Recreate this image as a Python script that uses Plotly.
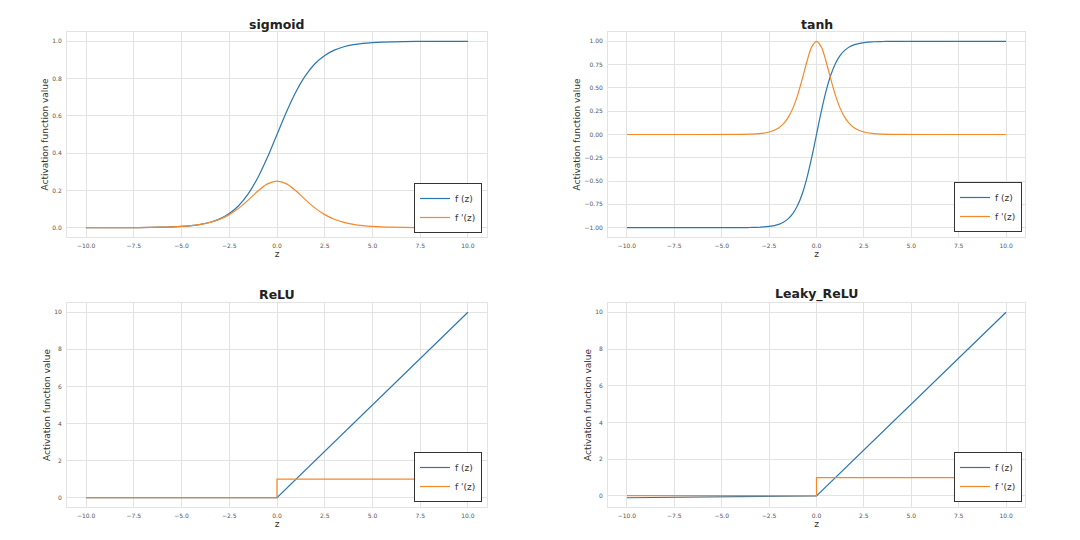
import plotly.graph_objects as go
from plotly.subplots import make_subplots

# ---------------- data ----------------
z_sig = [-10, -8, -6, -5.5, -5, -4.5, -4, -3.5, -3, -2.5, -2, -1.5, -1, -0.5, 0,
         0.5, 1, 1.5, 2, 2.5, 3, 3.5, 4, 4.5, 5, 5.5, 6, 8, 10]
sig_f = [0.0000, 0.0003, 0.0025, 0.0041, 0.0067, 0.0110, 0.0180, 0.0293, 0.0474, 0.0759, 0.1192, 0.1824, 0.2689, 0.3775, 0.5000,
         0.6225, 0.7311, 0.8176, 0.8808, 0.9241, 0.9526, 0.9707, 0.9820, 0.9890, 0.9933, 0.9959, 0.9975, 0.9997, 1.0000]
sig_d = [0.0000, 0.0003, 0.0025, 0.0041, 0.0066, 0.0109, 0.0177, 0.0285, 0.0452, 0.0701, 0.1050, 0.1491, 0.1966, 0.2350, 0.2500,
         0.2350, 0.1966, 0.1491, 0.1050, 0.0701, 0.0452, 0.0285, 0.0177, 0.0109, 0.0066, 0.0041, 0.0025, 0.0003, 0.0000]

z_tanh = [-10, -6, -4, -3.5, -3, -2.5, -2, -1.75, -1.5, -1.25, -1, -0.75, -0.5, -0.25, 0,
          0.25, 0.5, 0.75, 1, 1.25, 1.5, 1.75, 2, 2.5, 3, 3.5, 4, 6, 10]
tanh_f = [-1.0000, -1.0000, -0.9993, -0.9982, -0.9951, -0.9866, -0.9640, -0.9414, -0.9051, -0.8483, -0.7616, -0.6351, -0.4621, -0.2449, 0.0000,
          0.2449, 0.4621, 0.6351, 0.7616, 0.8483, 0.9051, 0.9414, 0.9640, 0.9866, 0.9951, 0.9982, 0.9993, 1.0000, 1.0000]
tanh_d = [0.0000, 0.0000, 0.0013, 0.0036, 0.0099, 0.0266, 0.0707, 0.1138, 0.1807, 0.2804, 0.4200, 0.5966, 0.7864, 0.9400, 1.0000,
          0.9400, 0.7864, 0.5966, 0.4200, 0.2804, 0.1807, 0.1138, 0.0707, 0.0266, 0.0099, 0.0036, 0.0013, 0.0000, 0.0000]

z_relu = [-10, 0, 10]
relu_f = [0, 0, 10]
relu_d = [0, 1, 1]

z_leaky = [-10, 0, 10]
leaky_f = [-0.1, 0, 10]
leaky_d = [0.01, 1, 1]

titles = ["sigmoid", "tanh", "ReLU", "Leaky_ReLU"]
x_ticks = [-10, -7.5, -5, -2.5, 0, 2.5, 5, 7.5, 10]
label_f = "f (z)"
label_d = "f '(z)"

BLUE = "#2a77b0"
ORANGE = "#f5892a"
FONT = "DejaVu Sans"

fig = make_subplots(rows=2, cols=2)

panels = [
    (1, 1, z_sig, sig_f, z_sig, sig_d, "spline", "spline", "legend"),
    (1, 2, z_tanh, tanh_f, z_tanh, tanh_d, "spline", "spline", "legend2"),
    (2, 1, z_relu, relu_f, z_relu, relu_d, "linear", "hv", "legend3"),
    (2, 2, z_leaky, leaky_f, z_leaky, leaky_d, "linear", "hv", "legend4"),
]
for r, c, xf, yf, xd, yd, sf, sd, lg in panels:
    fig.add_trace(go.Scatter(x=xf, y=yf, mode="lines", name=label_f,
                             line=dict(color=BLUE, width=1.2, shape=sf), legend=lg), row=r, col=c)
    fig.add_trace(go.Scatter(x=xd, y=yd, mode="lines", name=label_d,
                             line=dict(color=ORANGE, width=1.2, shape=sd), legend=lg), row=r, col=c)

# domains in pixel fractions
W, H = 1080, 540
xl = [67 / W, 487 / W]
xr = [608 / W, 1025 / W]
yt = [1 - 237 / H, 1 - 32 / H]
yb = [1 - 507 / H, 1 - 303 / H]

axis_common = dict(showgrid=True, gridcolor="#e3e3e3", gridwidth=1,
                   showline=True, linecolor="#e3e3e3", linewidth=1, mirror=True,
                   zeroline=False, ticks="", tickfont=dict(family=FONT, size=6, color="#555555"),
                   ticklabelstandoff=3)

fig.update_xaxes(**axis_common, range=[-11, 11], tickvals=x_ticks, tickformat=".1f",
                 title=dict(text="z", font=dict(family=FONT, size=9, color="#333333"), standoff=2))
fig.update_yaxes(**axis_common,
                 title=dict(text="Activation function value", font=dict(family=FONT, size=9, color="#333333"), standoff=2))

fig.update_xaxes(domain=xl, row=1, col=1)
fig.update_xaxes(domain=xr, row=1, col=2)
fig.update_xaxes(domain=xl, row=2, col=1)
fig.update_xaxes(domain=xr, row=2, col=2)

fig.update_yaxes(domain=yt, range=[-0.05, 1.05], tickvals=[0, 0.2, 0.4, 0.6, 0.8, 1.0], tickformat=".1f", row=1, col=1)
fig.update_yaxes(domain=yt, range=[-1.1, 1.1], tickvals=[-1, -0.75, -0.5, -0.25, 0, 0.25, 0.5, 0.75, 1.0], tickformat=".2f", row=1, col=2)
fig.update_yaxes(domain=yb, range=[-0.5, 10.5], tickvals=[0, 2, 4, 6, 8, 10], tickformat="d", row=2, col=1)
fig.update_yaxes(domain=yb, range=[-0.605, 10.505], tickvals=[0, 2, 4, 6, 8, 10], tickformat="d", row=2, col=2)

legend_common = dict(bgcolor="white", bordercolor="#333333", borderwidth=1,
                     font=dict(family=FONT, size=9, color="#333333"),
                     xanchor="right", yanchor="bottom", itemwidth=30, tracegroupgap=0)
fig.update_layout(
    legend=dict(**legend_common, x=482 / W, y=1 - 233 / H),
    legend2=dict(**legend_common, x=1022 / W, y=1 - 232 / H),
    legend3=dict(**legend_common, x=482 / W, y=1 - 502 / H),
    legend4=dict(**legend_common, x=1022 / W, y=1 - 502 / H),
)

# panel titles
title_pos = [((xl[0] + xl[1]) / 2, 1 - 24.5 / H), ((xr[0] + xr[1]) / 2, 1 - 24.5 / H),
             ((xl[0] + xl[1]) / 2, 1 - 294 / H), ((xr[0] + xr[1]) / 2, 1 - 294 / H)]
for t, (px, py) in zip(titles, title_pos):
    fig.add_annotation(text="<b>" + t + "</b>", x=px, y=py, xref="paper", yref="paper",
                       xanchor="center", yanchor="middle", showarrow=False,
                       font=dict(family=FONT, size=12.5, color="#222222"))

fig.update_layout(width=W, height=H, margin=dict(l=0, r=0, t=0, b=0),
                  paper_bgcolor="white", plot_bgcolor="white",
                  font=dict(family=FONT), showlegend=True)

fig.write_html("out.html")
